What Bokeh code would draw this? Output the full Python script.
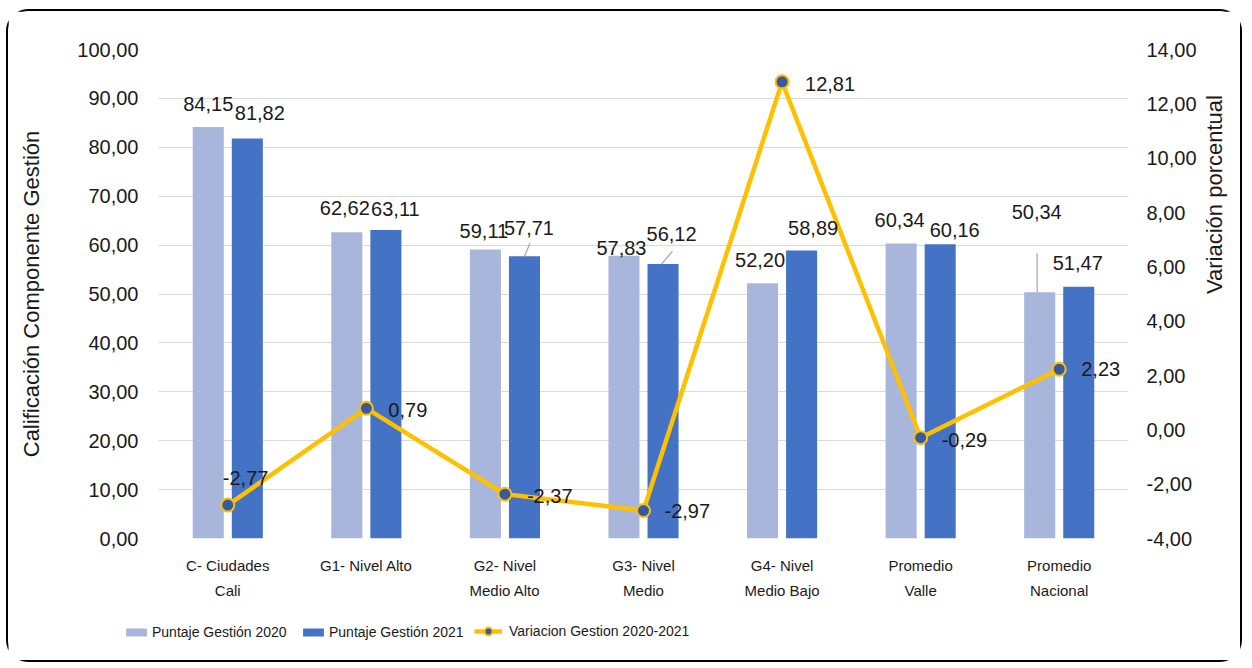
import math
from bokeh.plotting import figure
from bokeh.models import (Range1d, LinearAxis, FixedTicker, SingleIntervalTicker,
                          CustomJSTickFormatter, Legend, LegendItem, ColumnDataSource)
from bokeh.core.properties import value
from bokeh.embed import file_html
from bokeh.resources import INLINE

# ---------------- data ----------------
categories = ["C- Ciudades\nCali", "G1- Nivel Alto", "G2- Nivel\nMedio Alto",
              "G3- Nivel\nMedio", "G4- Nivel\nMedio Bajo", "Promedio\nValle",
              "Promedio\nNacional"]
gestion_2020 = [84.15, 62.62, 59.11, 57.83, 52.20, 60.34, 50.34]
gestion_2021 = [81.82, 63.11, 57.71, 56.12, 58.89, 60.16, 51.47]
variacion = [-2.77, 0.79, -2.37, -2.97, 12.81, -0.29, 2.23]
series_names = ["Puntaje Gestión 2020", "Puntaje Gestión 2021", "Variacion Gestion 2020-2021"]

# ---------------- style / layout ----------------
W = 1236
ML, MR, MT, MB = 150, 116, 38, 72
FW, FH = 970, 489
H = MT + FH + MB
HL = 54
C20, C21, CLINE, CMARK = "#A9B6DC", "#4472C4", "#FFC000", "#36599F"
GRID = "#D9D9D9"
TXT = "#1a1a1a"
FONT = "Liberation Sans"
DODGE, BW = 0.141, 0.224

# label offsets in screen px (dx, dy) relative to top-centre of bar / point
off20 = [(0, -23), (-2, -24), (-1.5, -18), (-2.5, -8), (-2.5, -23), (-1.5, -23), (-3, -80)]
off21 = [(12.5, -25), (9.5, -21), (4.5, -28), (8.5, -30), (11.5, -23), (14.5, -14), (-1, -24)]
offv = [(-5, -27), (22, 2), (22, 2), (21, 0), (23, 2), (21, 2), (22, 0)]

def fmt(v):
    return f"{v:.2f}".replace(".", ",")

idx = list(range(len(categories)))
x20 = [i - DODGE for i in idx]
x21 = [i + DODGE for i in idx]

p = figure(width=W, height=H, output_backend="svg", toolbar_location=None,
           x_range=Range1d(-0.5, len(categories) - 0.5), y_range=Range1d(0, 100),
           min_border_left=ML, min_border_right=MR, min_border_top=MT, min_border_bottom=MB)
p.extra_y_ranges = {"var": Range1d(-4, 14)}
p.outline_line_color = None
p.background_fill_color = "white"
p.border_fill_color = "white"
p.margin = (9, 0, 0, 6)
p.styles = {"border": "2px solid black", "border-bottom": "none",
            "border-radius": "22px 22px 0 0"}

tickfmt = CustomJSTickFormatter(code="return tick.toFixed(2).replace('.', ',');")

p.yaxis.ticker = SingleIntervalTicker(interval=10)
p.yaxis.formatter = tickfmt
p.yaxis.axis_label = "Calificación Componente Gestión"
ax_r = LinearAxis(y_range_name="var", ticker=SingleIntervalTicker(interval=2),
                  formatter=tickfmt, axis_label="Variación porcentual")
p.add_layout(ax_r, "right")

for ax in [p.yaxis[0], ax_r]:
    ax.axis_line_color = None
    ax.major_tick_line_color = None
    ax.minor_tick_line_color = None
    ax.major_tick_out = 0
    ax.major_tick_in = 0
    ax.minor_tick_out = 0
    ax.major_label_text_font = FONT
    ax.major_label_text_font_size = "20px"
    ax.major_label_text_color = TXT
    ax.axis_label_text_font = FONT
    ax.axis_label_text_font_size = "22px"
    ax.axis_label_text_font_style = "normal"
    ax.axis_label_text_color = TXT
p.yaxis[0].major_label_standoff = 20
p.yaxis[0].axis_label_standoff = 30
ax_r.major_label_standoff = 18
ax_r.axis_label_standoff = 15
if "axis_label_orientation" in LinearAxis.properties():
    ax_r.axis_label_orientation = math.pi / 2

p.xaxis.ticker = FixedTicker(ticks=idx)
p.xaxis.major_label_overrides = {i: c for i, c in zip(idx, categories)}
p.xaxis.axis_line_color = None
p.xaxis.major_tick_line_color = None
p.xaxis.minor_tick_line_color = None
p.xaxis.major_tick_out = 0
p.xaxis.major_tick_in = 0
p.xaxis.major_label_standoff = 18
p.xaxis.major_label_text_font = FONT
p.xaxis.major_label_text_font_size = "15px"
p.xaxis.major_label_text_color = TXT
p.xaxis.major_label_text_line_height = 1.5

p.xgrid.grid_line_color = None
p.ygrid.grid_line_color = GRID
p.ygrid.grid_line_width = 1

# bars
p.vbar(x=x20, top=gestion_2020, width=BW, color=C20, line_color=None)
p.vbar(x=x21, top=gestion_2021, width=BW, color=C21, line_color=None)

# leader lines (computed from values + pixel offsets)
pxx, pxy, pxv = FW / len(categories), FH / 100.0, FH / 18.0
leaders = [
    (x21[2], gestion_2021[2], pxy, None, (0, 0), (5.5, -13)),
    (x21[3], gestion_2021[3], pxy, None, (-1.5, 0), (9.5, -13)),
    (x20[6], gestion_2020[6], pxy, None, (-2.5, 0), (-2.5, -39)),
    (idx[0], variacion[0], pxv, "var", (0, 0), (18, -12)),
]
for xc, yv, ppu, rn, a, b in leaders:
    kw = {} if rn is None else {"y_range_name": rn}
    p.segment(x0=[xc + a[0] / pxx], y0=[yv - a[1] / ppu], x1=[xc + b[0] / pxx],
              y1=[yv - b[1] / ppu], line_color="#A6A6A6", line_width=1.2, **kw)

# variation line
p.line(x=idx, y=variacion, y_range_name="var", line_color=CLINE, line_width=4.5,
       line_join="round")
p.scatter(x=idx, y=variacion, y_range_name="var", size=13, fill_color=CMARK,
          line_color=CLINE, line_width=2)

# data labels
src20 = ColumnDataSource(dict(x=x20, y=gestion_2020, t=[fmt(v) for v in gestion_2020],
                              dx=[o[0] for o in off20], dy=[o[1] for o in off20]))
src21 = ColumnDataSource(dict(x=x21, y=gestion_2021, t=[fmt(v) for v in gestion_2021],
                              dx=[o[0] for o in off21], dy=[o[1] for o in off21]))
srcv = ColumnDataSource(dict(x=idx, y=variacion, t=[fmt(v) for v in variacion],
                             dx=[o[0] for o in offv], dy=[o[1] for o in offv]))
for s in (src20, src21):
    p.text(x="x", y="y", text="t", x_offset="dx", y_offset="dy", source=s,
           text_align="center", text_baseline="middle", text_font=value(FONT),
           text_font_size="20px", text_color=TXT)
p.text(x="x", y="y", text="t", x_offset="dx", y_offset="dy", source=srcv,
       y_range_name="var", text_align="left", text_baseline="middle",
       text_font=value(FONT), text_font_size="20px", text_color=TXT)

# ---------------- legend strip (separate small figure / root) ----------------
pl = figure(width=W, height=HL, output_backend="svg", toolbar_location=None,
            x_range=Range1d(0, 1), y_range=Range1d(0, 1),
            x_axis_location=None, y_axis_location=None, min_border=0)
pl.outline_line_color = None
pl.grid.visible = False
pl.background_fill_color = "white"
pl.border_fill_color = "white"
pl.margin = (0, 0, 0, 6)
pl.styles = {"border": "2px solid black", "border-top": "none",
             "border-radius": "0 0 22px 22px"}
# legend proxies: one point each, placed outside the visible range
lr20 = pl.vbar(x=[5], top=[5], width=BW, color=C20, line_color=None)
lr21 = pl.vbar(x=[5], top=[5], width=BW, color=C21, line_color=None)
lrl = pl.line(x=[5, 6], y=[5, 5], line_color=CLINE, line_width=4.5)
lrm = pl.scatter(x=[5], y=[5], fill_color=CMARK, line_color=CLINE, line_width=2)

leg_specs = [(series_names[0], [lr20], 115, 22, 3, 26, 10),
             (series_names[1], [lr21], 292, 22, 3, 26, 10),
             (series_names[2], [lrl, lrm], 466, 21, 7, 28, 20)]
for label, rends, lx, ly, standoff, gw, gh in leg_specs:
    lg = Legend(items=[LegendItem(label=label, renderers=rends)], location=(lx, ly),
                orientation="horizontal", glyph_width=gw, glyph_height=gh,
                label_standoff=standoff, label_height=10, padding=0, margin=0, spacing=0,
                border_line_color=None, background_fill_alpha=0,
                label_text_font=FONT, label_text_font_size="14px", label_text_color=TXT)
    pl.add_layout(lg)

open("out.html", "w").write(file_html([p, pl], INLINE))
